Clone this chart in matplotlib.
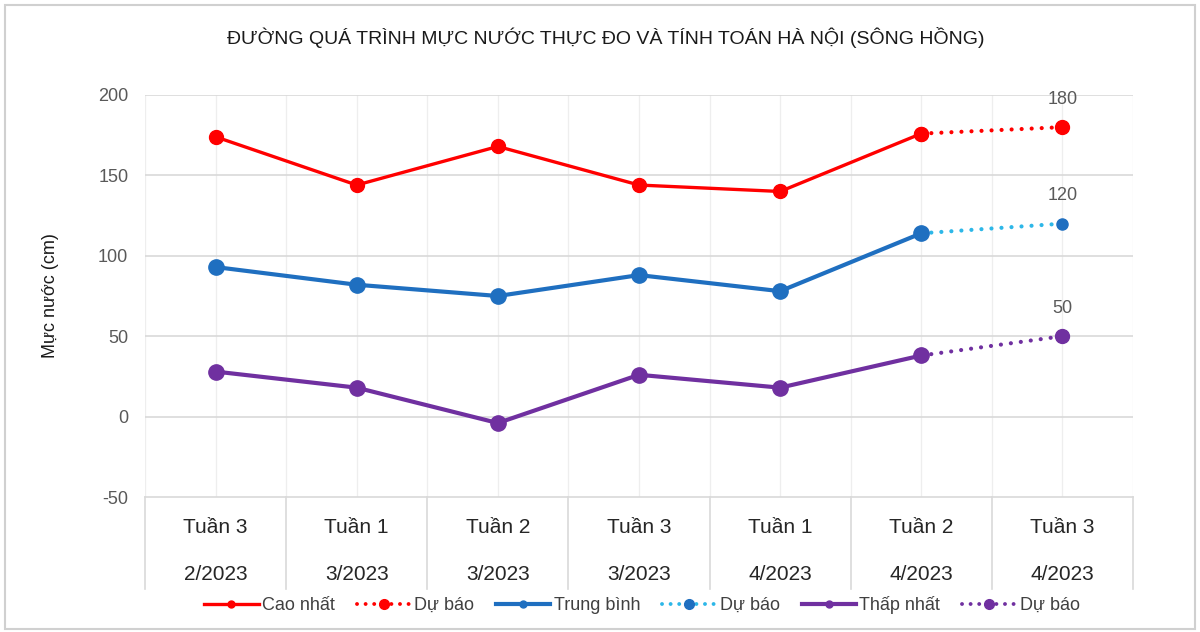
import matplotlib
matplotlib.use('Agg')
import matplotlib.pyplot as plt
import matplotlib.transforms as mtransforms
from matplotlib.lines import Line2D
from matplotlib.patches import Rectangle

plt.rcParams['font.family'] = ['Liberation Sans', 'DejaVu Sans']
plt.rcParams['axes.unicode_minus'] = False

# Du lieu
weeks = ["Tuần 3", "Tuần 1", "Tuần 2", "Tuần 3", "Tuần 1", "Tuần 2", "Tuần 3"]
months = ["2/2023", "3/2023", "3/2023", "3/2023", "4/2023", "4/2023", "4/2023"]
cao_nhat = [174, 144, 168, 144, 140, 176]
trung_binh = [93, 82, 75, 88, 78, 114]
thap_nhat = [28, 18, -4, 26, 18, 38]
du_bao_cao = [176, 180]
du_bao_tb = [114, 120]
du_bao_thap = [38, 50]

RED = '#FF0000'
BLUE = '#1F6FC0'
CYAN = '#2DB7E8'
PURPLE = '#7030A0'
GRID = '#D9D9D9'
DOT = (0, (0.01, 2.4))

fig = plt.figure(figsize=(12, 6.32), dpi=100)
ax = fig.add_axes([0.1208, 0.2136, 0.8234, 0.6361])

x = list(range(len(weeks)))
x_obs = x[:len(cao_nhat)]
x_fc = x[len(cao_nhat) - 1:]

# Duong du bao (cham)
ax.plot(x_fc, du_bao_cao, color=RED, lw=3, ls=DOT, dash_capstyle='round',
        marker='o', ms=10, zorder=3)
ax.plot(x_fc, du_bao_tb, color=CYAN, lw=3, ls=DOT, dash_capstyle='round', zorder=3)
ax.plot(x_fc[-1:], du_bao_tb[-1:], color=BLUE, marker='o', ms=8, ls='none', zorder=3)
ax.plot(x_fc, du_bao_thap, color=PURPLE, lw=3, ls=DOT, dash_capstyle='round',
        marker='o', ms=10, zorder=3)

# Duong thuc do
ax.plot(x_obs, cao_nhat, color=RED, lw=2.4, marker='o', ms=10, zorder=4)
ax.plot(x_obs, trung_binh, color=BLUE, lw=3, marker='o', ms=11, zorder=4)
ax.plot(x_obs, thap_nhat, color=PURPLE, lw=3, marker='o', ms=11, zorder=4)

# Nhan du lieu
for v in (du_bao_cao[-1], du_bao_tb[-1], du_bao_thap[-1]):
    ax.annotate(str(v), (x[-1], v), xytext=(0, 14), textcoords='offset points',
                ha='center', va='bottom', fontsize=13, color='#595959')

ax.set_xlim(-0.5, len(weeks) - 0.5)
ax.set_ylim(-50, 200)
ax.set_yticks([-50, 0, 50, 100, 150, 200])
ax.tick_params(axis='y', length=0, labelsize=13, labelcolor='#595959', pad=12)
ax.set_xticks([])

# Luoi
for y in [0, 50, 100, 150, 200]:
    ax.axhline(y, color=GRID, lw=1.2, zorder=1)
for i in x:
    ax.axvline(i, color='#EEEEEE', lw=0.9, zorder=0)
for i in range(len(weeks) + 1):
    ax.axvline(i - 0.5, color='#EEEEEE', lw=0.9, zorder=0)
for s in ['top', 'right', 'left']:
    ax.spines[s].set_visible(False)
ax.spines['bottom'].set_color(GRID)
ax.spines['bottom'].set_linewidth(1.2)

# Truc danh muc nhieu cap
trans = mtransforms.blended_transform_factory(ax.transData, ax.transAxes)
for i in range(len(weeks) + 1):
    ax.plot([i - 0.5, i - 0.5], [0, -0.23], transform=trans, color=GRID, lw=1.2,
            clip_on=False)
for i in x:
    ax.text(i, -0.075, weeks[i], transform=trans, ha='center', va='center',
            fontsize=15, color='#262626')
    ax.text(i, -0.193, months[i], transform=trans, ha='center', va='center',
            fontsize=15, color='#262626')

ax.set_ylabel("Mực nước (cm)", fontsize=13, color='#1A1A1A', labelpad=28)

fig.text(0.505, 0.94, "ĐƯỜNG QUÁ TRÌNH MỰC NƯỚC THỰC ĐO VÀ TÍNH TOÁN HÀ NỘI (SÔNG HỒNG)",
         ha='center', va='center', fontsize=14, color='#1A1A1A')

# Chu giai
LDOT = (0, (0.01, 2.2))
handles = [
    Line2D([], [], color=RED, lw=2.4, marker='o', ms=5),
    Line2D([], [], color=RED, lw=2.8, ls=LDOT, dash_capstyle='round', marker='o', ms=7),
    Line2D([], [], color=BLUE, lw=3, marker='o', ms=5),
    Line2D([], [], color=CYAN, lw=2.8, ls=LDOT, dash_capstyle='round',
           marker='o', ms=7, mfc=BLUE, mec=BLUE),
    Line2D([], [], color=PURPLE, lw=3, marker='o', ms=5),
    Line2D([], [], color=PURPLE, lw=2.8, ls=LDOT, dash_capstyle='round', marker='o', ms=7),
]
labels = ["Cao nhất", "Dự báo", "Trung bình", "Dự báo", "Thấp nhất", "Dự báo"]
fig.legend(handles, labels, loc='center', bbox_to_anchor=(0.535, 0.043), ncol=6,
           frameon=False, fontsize=13, handlelength=3, handletextpad=0.2,
           columnspacing=1.2, labelcolor='#404040')

# Khung bieu do
fig.patches.append(Rectangle((0.004, 0.004), 0.992, 0.988, transform=fig.transFigure,
                             fill=False, edgecolor='#D0D0D0', lw=1.5))

plt.savefig('out.png', dpi=100)
plt.close()
